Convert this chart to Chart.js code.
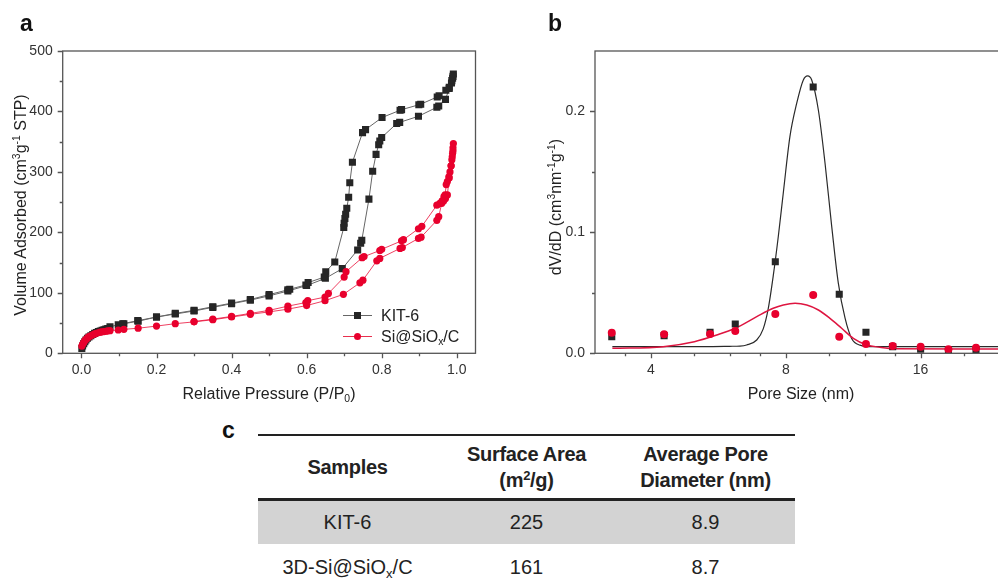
<!DOCTYPE html>
<html>
<head>
<meta charset="utf-8">
<script src="https://cdn.jsdelivr.net/npm/chart.js@4.4.1/dist/chart.umd.min.js"></script>
<style>
html, body { margin: 0; padding: 0; width: 998px; height: 585px; overflow: hidden; background: #fff; }
body { position: relative; font-family: "Liberation Sans", Arial, sans-serif; color: #222; }
canvas { position: absolute; top: 0; }
.t { position: absolute; white-space: nowrap; font-size: 16px; line-height: 1; }
.c { transform: translate(-50%, -50%); }
.r { transform: translate(-50%, -50%) rotate(-90deg); }
.t sup, .t sub { font-size: 0.65em; line-height: 0; }
.t sup { vertical-align: 0.55em; }
.t sub { vertical-align: -0.3em; }
.panel { position: absolute; font-weight: bold; font-size: 23px; line-height: 1; color: #111; }
.legLine { position: absolute; height: 0; width: 29px; }
.mk { position: absolute; width: 7px; height: 7px; }
#tbl { position: absolute; left: 258px; top: 434px; width: 537px; border-collapse: collapse; border-top: 2px solid #222; font-size: 20px; color: #222; }
#tbl th { font-weight: bold; line-height: 26px; height: 62px; padding: 0; border-bottom: 3px solid #222; letter-spacing: -0.3px; }
#tbl td { text-align: center; padding: 0; }
#tbl tr.g td { background: #d3d3d3; height: 43px; }
#tbl tr.w td { height: 46px; }
#tbl sup, #tbl sub { font-size: 0.65em; line-height: 0; }
#tbl sup { vertical-align: 0.55em; }
#tbl sub { vertical-align: -0.3em; }
</style>
</head>
<body>
<canvas id="isoChart" width="500" height="400" style="left:0"></canvas>
<canvas id="poreChart" width="560" height="400" style="left:500px"></canvas>

<div class="panel" style="left:20px;top:12px">a</div>
<div class="panel" style="left:548px;top:12px">b</div>
<div class="panel" style="left:222px;top:419px">c</div>

<div class="t r" style="left:21px;top:205px">Volume Adsorbed (cm<sup>3</sup>g<sup>-1</sup> STP)</div>
<div class="t c" style="left:269px;top:394px">Relative Pressure (P/P<sub>0</sub>)</div>
<div class="t r" style="left:556px;top:207px">dV/dD (cm<sup>3</sup>nm<sup>-1</sup>g<sup>-1</sup>)</div>
<div class="t c" style="left:801px;top:394px">Pore Size (nm)</div>

<!-- legend, panel a -->
<div class="legLine" style="left:343px;top:315px;border-top:1px solid #666"></div>
<div class="mk" style="left:354px;top:312px;background:#262626"></div>
<div class="t" style="left:381px;top:308px">KIT-6</div>
<div class="legLine" style="left:343px;top:336px;border-top:1px solid #e8304e"></div>
<div class="mk" style="left:354px;top:333px;background:#e8002d;border-radius:50%"></div>
<div class="t" style="left:381px;top:329px">Si@SiO<sub>x</sub>/C</div>

<table id="tbl">
  <tr>
    <th style="width:179px">Samples</th>
    <th style="width:179px">Surface Area<br>(m<sup>2</sup>/g)</th>
    <th style="width:179px">Average Pore<br>Diameter (nm)</th>
  </tr>
  <tr class="g"><td>KIT-6</td><td>225</td><td>8.9</td></tr>
  <tr class="w"><td>3D-Si@SiO<sub>x</sub>/C</td><td>161</td><td>8.7</td></tr>
</table>

<script>
// N2 isotherms: relative pressure and adsorbed volume (cm3/g STP)
const kitAdsP = [0.001, 0.003, 0.006, 0.009, 0.012, 0.016, 0.02, 0.025, 0.03, 0.035, 0.04, 0.045, 0.05, 0.055, 0.06, 0.065, 0.07, 0.076, 0.098, 0.113, 0.151, 0.2, 0.25, 0.3, 0.35, 0.4, 0.45, 0.5, 0.55, 0.6, 0.65, 0.695, 0.736, 0.744, 0.747, 0.766, 0.776, 0.785, 0.792, 0.795, 0.8, 0.84, 0.848, 0.898, 0.947, 0.952, 0.97, 0.98, 0.986, 0.989, 0.991];
const kitAdsV = [8, 12, 16, 19, 22, 25, 27, 29, 31, 33, 34.5, 36, 37, 38, 39, 40, 41, 44, 47, 49, 53, 60, 65, 70, 76, 82, 88, 95, 103, 112, 124, 140, 171, 182, 187, 255, 301, 329, 345, 351, 357, 380, 382, 392, 407, 409, 420, 438, 447, 455, 462];
const kitDesP = [0.99, 0.987, 0.98, 0.971, 0.953, 0.948, 0.904, 0.899, 0.853, 0.849, 0.801, 0.757, 0.749, 0.722, 0.715, 0.712, 0.707, 0.704, 0.702, 0.7, 0.699, 0.675, 0.651, 0.647, 0.604, 0.598, 0.555, 0.55, 0.5, 0.45, 0.4, 0.35, 0.3, 0.25, 0.2, 0.15, 0.11];
const kitDesV = [458, 451, 440, 435, 426, 424, 412, 411, 403, 402, 390, 370, 365, 316, 282, 258, 240, 230, 223, 215, 208, 151, 135, 126, 117, 113, 106, 105, 97, 89, 83, 77, 71, 66, 60, 54, 49];

const siAdsP = [0.001, 0.003, 0.006, 0.009, 0.012, 0.016, 0.02, 0.025, 0.03, 0.035, 0.04, 0.045, 0.05, 0.055, 0.06, 0.065, 0.07, 0.076, 0.098, 0.113, 0.151, 0.2, 0.25, 0.3, 0.35, 0.4, 0.45, 0.5, 0.55, 0.6, 0.649, 0.698, 0.742, 0.75, 0.787, 0.795, 0.849, 0.855, 0.898, 0.905, 0.947, 0.952, 0.96, 0.965, 0.97, 0.975, 0.98, 0.985, 0.988, 0.99, 0.991];
const siAdsV = [12, 15, 18, 21, 23, 25.5, 27.5, 29, 30.5, 32, 33, 34, 35, 35.5, 36, 36.5, 37, 37.5, 38.5, 39.6, 41.5, 45, 49, 52, 55.5, 60, 64.5, 68.5, 73, 79, 87, 97.5, 116.6, 121, 153, 157, 173.5, 175, 190, 192, 220, 226, 248, 252, 256, 262, 290, 310, 325, 335, 347];
const siDesP = [0.99, 0.989, 0.987, 0.985, 0.982, 0.979, 0.975, 0.972, 0.969, 0.966, 0.961, 0.955, 0.947, 0.907, 0.898, 0.858, 0.853, 0.8, 0.795, 0.753, 0.748, 0.705, 0.7, 0.658, 0.649, 0.603, 0.598, 0.55, 0.5, 0.45, 0.4, 0.35, 0.3];
const siDesV = [340, 331, 320, 310, 300, 292, 284, 279, 262, 259, 252, 248, 245, 210, 206, 188, 186, 172, 170, 160, 158, 135, 126, 99, 93, 87, 84, 78, 71, 66, 61, 56.5, 52.5];

const pressureTicks = [0, 0.2, 0.4, 0.6, 0.8, 1.0];
const pressureMinor = [0.1, 0.3, 0.5, 0.7, 0.9];
const volumeTicks = [0, 100, 200, 300, 400, 500];
const volumeMinor = [50, 150, 250, 350, 450];

// pore size distribution: measured points and fitted curves
const poreSizes = [3.27, 4.28, 5.42, 6.17, 7.58, 9.21, 10.53, 12.08, 13.86, 16, 18.46, 21.27];
const kitDvd = [0.0137, 0.0146, 0.0174, 0.0242, 0.0757, 0.2203, 0.0488, 0.0174, 0.0055, 0.0033, 0.0021, 0.0021];
const siDvd = [0.0170, 0.0157, 0.0160, 0.0184, 0.0325, 0.0482, 0.0137, 0.0077, 0.0060, 0.0055, 0.0033, 0.0046];

const kitFitD = [3.28, 4.5, 5.5, 6.0, 6.32, 6.54, 6.89, 7.12, 7.31, 7.5, 7.7, 7.9, 8.17, 8.46, 8.75, 8.95, 9.14, 9.46, 9.79, 10.13, 10.48, 10.85, 11.23, 11.71, 12.54, 14, 20, 30];
const kitFitV = [0.0055, 0.0055, 0.0056, 0.0058, 0.006, 0.0069, 0.011, 0.02, 0.037, 0.064, 0.097, 0.133, 0.179, 0.2066, 0.2259, 0.2294, 0.226, 0.201, 0.157, 0.105, 0.058, 0.029, 0.012, 0.0068, 0.0055, 0.0055, 0.0055, 0.0055];
const siFitD = [3.28, 4.26, 5.0, 5.61, 6.17, 6.89, 7.5, 7.9, 8.39, 8.91, 9.46, 10.04, 10.66, 11.32, 12.13, 12.98, 14, 20, 30];
const siFitV = [0.0041, 0.0055, 0.0096, 0.0151, 0.0207, 0.0303, 0.0372, 0.0399, 0.0413, 0.0399, 0.0358, 0.0289, 0.0207, 0.0124, 0.0069, 0.005, 0.0038, 0.0036, 0.0036];

const poreTicks = [4, 8, 16];
const poreMinor = [3.5, 5, 6, 7, 10, 12, 14, 20, 24, 28];
const dvdTicks = [0, 0.1, 0.2];
const dvdMinor = [0.05, 0.15];

const RED = '#e8002d';
const DARK = '#262626';

const pts = (xs, ys) => xs.map((x, i) => ({ x: x, y: ys[i] }));

Chart.defaults.font.family = '"Liberation Sans", Arial, sans-serif';
Chart.defaults.font.size = 14;
Chart.defaults.color = '#333';

// box frame plus outward major/minor tick marks
const axisFrame = {
    id: 'axisFrame',
    afterDatasetsDraw(chart, args, opts) {
        const { ctx, chartArea: a, scales } = chart;
        ctx.save();
        ctx.strokeStyle = '#555';
        ctx.lineWidth = 1.3;
        ctx.strokeRect(a.left, a.top, a.right - a.left, a.bottom - a.top);
        ctx.beginPath();
        const mark = (scale, values, len) => {
            values.forEach(v => {
                const p = Math.round(scale.getPixelForValue(v)) + 0.5;
                if (scale.isHorizontal()) {
                    ctx.moveTo(p, a.bottom);
                    ctx.lineTo(p, a.bottom + len);
                } else {
                    ctx.moveTo(a.left, p);
                    ctx.lineTo(a.left - len, p);
                }
            });
        };
        mark(scales.x, opts.xMajor, 5);
        mark(scales.x, opts.xMinor, 3);
        mark(scales.y, opts.yMajor, 5);
        mark(scales.y, opts.yMinor, 3);
        ctx.stroke();
        ctx.restore();
    }
};

const fixedTicks = list => scale => { scale.ticks = list.map(v => ({ value: v })); };

// panel a: adsorption / desorption isotherms
new Chart(document.getElementById('isoChart'), {
    type: 'scatter',
    data: {
        datasets: [
            {
                label: 'Si@SiOx/C',
                data: pts(siAdsP.concat(siDesP), siAdsV.concat(siDesV)),
                showLine: true,
                borderColor: 'rgba(232, 0, 45, 0.75)',
                borderWidth: 1,
                pointStyle: 'circle',
                pointRadius: 3.6,
                pointBackgroundColor: RED,
                pointBorderWidth: 0,
                order: 0
            },
            {
                label: 'KIT-6',
                data: pts(kitAdsP.concat(kitDesP), kitAdsV.concat(kitDesV)),
                showLine: true,
                borderColor: '#666',
                borderWidth: 1,
                pointStyle: 'rect',
                pointRadius: 5,
                pointBackgroundColor: DARK,
                pointBorderWidth: 0,
                order: 1
            }
        ]
    },
    options: {
        responsive: false,
        animation: false,
        events: [],
        layout: { padding: { top: 51, right: 24.5, left: 0, bottom: 0 } },
        plugins: {
            legend: { display: false },
            tooltip: { enabled: false },
            axisFrame: { xMajor: pressureTicks, xMinor: pressureMinor, yMajor: volumeTicks, yMinor: volumeMinor }
        },
        scales: {
            x: {
                type: 'linear',
                min: -0.05,
                max: 1.05,
                bounds: 'data',
                grid: { display: false, drawTicks: false },
                border: { display: false },
                afterBuildTicks: fixedTicks(pressureTicks),
                afterFit: scale => { scale.height = 46.7; },
                ticks: { padding: 8, maxRotation: 0, autoSkip: false, callback: v => v.toFixed(1) }
            },
            y: {
                min: 0,
                max: 500,
                bounds: 'data',
                grid: { display: false, drawTicks: false },
                border: { display: false },
                afterBuildTicks: fixedTicks(volumeTicks),
                afterFit: scale => { scale.width = 62.7; },
                ticks: { padding: 10, autoSkip: false }
            }
        }
    },
    plugins: [axisFrame]
});

// panel b: BJH pore size distribution on a log2 axis
new Chart(document.getElementById('poreChart'), {
    type: 'scatter',
    data: {
        datasets: [
            {
                label: 'Si@SiOx/C',
                data: pts(poreSizes, siDvd),
                pointStyle: 'circle',
                pointRadius: 4,
                pointBackgroundColor: RED,
                pointBorderWidth: 0,
                order: 0
            },
            {
                label: 'KIT-6',
                data: pts(poreSizes, kitDvd),
                pointStyle: 'rect',
                pointRadius: 5,
                pointBackgroundColor: DARK,
                pointBorderWidth: 0,
                order: 1
            },
            {
                label: 'Si@SiOx/C fit',
                data: pts(siFitD, siFitV),
                showLine: true,
                pointRadius: 0,
                borderColor: '#de1540',
                borderWidth: 1.5,
                cubicInterpolationMode: 'monotone',
                order: 2
            },
            {
                label: 'KIT-6 fit',
                data: pts(kitFitD, kitFitV),
                showLine: true,
                pointRadius: 0,
                borderColor: '#2a2a2a',
                borderWidth: 1.2,
                cubicInterpolationMode: 'monotone',
                order: 3
            }
        ]
    },
    options: {
        responsive: false,
        animation: false,
        events: [],
        layout: { padding: { top: 51, right: 17.1, left: 0, bottom: 0 } },
        plugins: {
            legend: { display: false },
            tooltip: { enabled: false },
            axisFrame: { xMajor: poreTicks, xMinor: poreMinor, yMajor: dvdTicks, yMinor: dvdMinor }
        },
        scales: {
            x: {
                type: 'logarithmic',
                min: 3,
                max: 30,
                bounds: 'data',
                grid: { display: false, drawTicks: false },
                border: { display: false },
                afterBuildTicks: fixedTicks(poreTicks),
                afterFit: scale => { scale.height = 46.7; },
                ticks: { padding: 8, maxRotation: 0, autoSkip: false, callback: v => String(v) }
            },
            y: {
                min: 0,
                max: 0.25,
                bounds: 'data',
                grid: { display: false, drawTicks: false },
                border: { display: false },
                afterBuildTicks: fixedTicks(dvdTicks),
                afterFit: scale => { scale.width = 95; },
                ticks: { padding: 10, autoSkip: false, callback: v => v.toFixed(1) }
            }
        }
    },
    plugins: [axisFrame]
});
</script>
</body>
</html>
